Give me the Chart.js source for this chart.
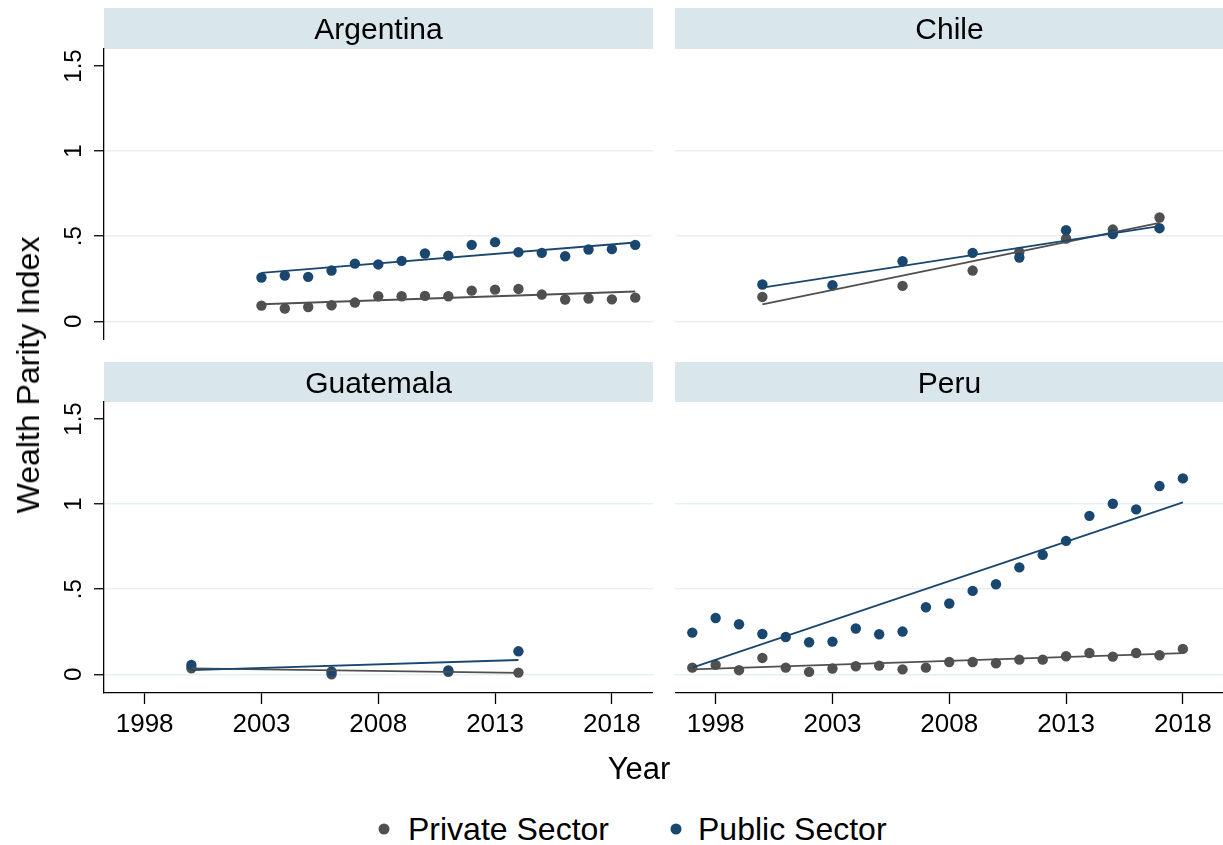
<!DOCTYPE html>
<html>
<head>
<meta charset="utf-8">
<title>Wealth Parity Index by sector</title>
<script src="https://cdn.jsdelivr.net/npm/chart.js@4.4.1/dist/chart.umd.min.js"></script>
<style>
  html, body { margin: 0; padding: 0; background: #fff; }
  body { position: relative; width: 1223px; height: 845px; overflow: hidden;
         font-family: "Liberation Sans", "Helvetica Neue", Helvetica, Arial, sans-serif; color: #000; }
  .panel { position: absolute; }
  .label { position: absolute; white-space: nowrap; line-height: 1; }
  .dot { position: absolute; width: 11px; height: 11px; border-radius: 50%; transform: translate(-50%, -50%); }
</style>
</head>
<body>

<div class="panel" style="left:0px;top:8px;"><canvas id="pArg" width="653" height="332"></canvas></div>
<div class="panel" style="left:675px;top:8px;"><canvas id="pChl" width="549" height="332"></canvas></div>
<div class="panel" style="left:0px;top:362px;"><canvas id="pGtm" width="653" height="391"></canvas></div>
<div class="panel" style="left:675px;top:362px;"><canvas id="pPer" width="549" height="391"></canvas></div>

<div class="label" style="left:28px;top:375px;font-size:32px;transform:translate(-50%,-50%) rotate(-90deg);">Wealth Parity Index</div>
<div class="label" style="left:639px;top:768px;font-size:31px;transform:translate(-50%,-50%);">Year</div>

<div class="dot" style="left:384px;top:829px;background:#505050;"></div>
<div class="label" style="left:408px;top:829px;font-size:32px;transform:translateY(-50%);">Private Sector</div>
<div class="dot" style="left:676px;top:829px;background:#1A476F;"></div>
<div class="label" style="left:698px;top:829px;font-size:32px;transform:translateY(-50%);">Public Sector</div>

<script>
// ---- Data ----------------------------------------------------------------
const argYears   = [2003, 2004, 2005, 2006, 2007, 2008, 2009, 2010, 2011, 2012, 2013, 2014, 2015, 2016, 2017, 2018, 2019];
const argPrivate = [0.092, 0.075, 0.084, 0.094, 0.110, 0.147, 0.147, 0.149, 0.147, 0.180, 0.186, 0.190, 0.157, 0.128, 0.134, 0.129, 0.139];
const argPublic  = [0.257, 0.269, 0.261, 0.298, 0.339, 0.334, 0.355, 0.398, 0.386, 0.449, 0.465, 0.406, 0.402, 0.382, 0.422, 0.424, 0.449];
const argPrivateFit = [0.100, 0.175];
const argPublicFit  = [0.284, 0.463];

const chlYears   = [2000, 2003, 2006, 2009, 2011, 2013, 2015, 2017];
const chlPrivate = [0.143, null, 0.208, 0.298, 0.408, 0.486, 0.539, 0.610];
const chlPublic  = [0.216, 0.212, 0.353, 0.402, 0.375, 0.535, 0.512, 0.547];
const chlPrivateFit = [0.100, 0.578];
const chlPublicFit  = [0.198, 0.559];

const gtmYears   = [2000, 2006, 2011, 2014];
const gtmPrivate = [0.035, 0.000, 0.015, 0.010];
const gtmPublic  = [0.055, 0.016, 0.022, 0.135];
const gtmPrivateFit = [0.035, 0.008];
const gtmPublicFit  = [0.025, 0.084];

const perYears   = [1997, 1998, 1999, 2000, 2001, 2002, 2003, 2004, 2005, 2006, 2007,
                    2008, 2009, 2010, 2011, 2012, 2013, 2014, 2015, 2016, 2017, 2018];
const perPrivate = [0.039, 0.055, 0.024, 0.096, 0.039, 0.014, 0.034, 0.047, 0.051, 0.029, 0.039,
                    0.072, 0.072, 0.065, 0.086, 0.086, 0.106, 0.125, 0.104, 0.125, 0.112, 0.149];
const perPublic  = [0.245, 0.331, 0.294, 0.237, 0.219, 0.188, 0.192, 0.269, 0.235, 0.251, 0.394,
                    0.416, 0.490, 0.529, 0.628, 0.702, 0.784, 0.931, 1.002, 0.969, 1.106, 1.151];
const perPrivateFit = [0.029, 0.124];
const perPublicFit  = [0.039, 1.010];

const xTicks  = [1998, 2003, 2008, 2013, 2018];
const yTicks  = [0, 0.5, 1, 1.5];
const yLabels = ['0', '.5', '1', '1.5'];
const yGrid   = [0, 0.5, 1];

// ---- Style ---------------------------------------------------------------
const FONT  = '"Liberation Sans", "Helvetica Neue", Helvetica, Arial, sans-serif';
const BLUE  = '#1A476F';
const GRAY  = '#505050';
const GRID  = '#E6EFF1';
const STRIP = '#D9E6EB';
const X_MIN = 1996.26, X_MAX = 2019.76;
const Y_MIN = -0.11,  Y_MAX = 1.60;

// Panel header strip plus rotated y tick labels
const panelDecor = {
  id: 'panelDecor',
  beforeDraw(chart, args, opts) {
    const { ctx, chartArea } = chart;
    ctx.save();
    ctx.fillStyle = STRIP;
    ctx.fillRect(chartArea.left, chartArea.top - opts.strip, chartArea.right - chartArea.left, opts.strip);
    ctx.fillStyle = '#000';
    ctx.font = '30px ' + FONT;
    ctx.textAlign = 'center';
    ctx.textBaseline = 'alphabetic';
    ctx.fillText(opts.title, (chartArea.left + chartArea.right) / 2, chartArea.top - opts.strip + 30.6);
    ctx.restore();
  },
  afterDraw(chart, args, opts) {
    if (!opts.yLabels) return;
    const { ctx } = chart;
    const ys = chart.scales.y;
    const fs = 24;
    ctx.save();
    ctx.fillStyle = '#000';
    ctx.font = fs + 'px ' + FONT;
    ctx.textAlign = 'center';
    ctx.textBaseline = 'alphabetic';
    yTicks.forEach((v, i) => {
      ctx.save();
      ctx.translate(72 + 0.358 * fs, ys.getPixelForValue(v));
      ctx.rotate(-Math.PI / 2);
      ctx.fillText(yLabels[i], 0, 0);
      ctx.restore();
    });
    ctx.restore();
  }
};

function points(years, values) {
  const out = [];
  years.forEach((yr, i) => { if (values[i] !== null) out.push({ x: yr, y: values[i] }); });
  return out;
}
function fitLine(years, fit) {
  return [{ x: years[0], y: fit[0] }, { x: years[years.length - 1], y: fit[1] }];
}

function drawPanel(id, title, strip, showY, showX, years, priv, pub, privFit, pubFit) {
  const yScale = {
    type: 'linear', min: Y_MIN, max: Y_MAX, position: 'left',
    afterBuildTicks: s => { s.ticks = yTicks.map(v => ({ value: v })); },
    afterFit: s => { s.width = showY ? 104 : 0; s.paddingTop = 0; s.paddingBottom = 0; },
    ticks: { display: false },
    border: { display: showY, color: '#000', width: 1.3 },
    grid: {
      color: c => (c.tick && yGrid.includes(c.tick.value)) ? GRID : 'rgba(0,0,0,0)',
      lineWidth: 1.5,
      drawTicks: showY, tickLength: 10, tickColor: '#000', tickWidth: 1.3
    }
  };
  const xScale = {
    type: 'linear', min: X_MIN, max: X_MAX, position: 'bottom', display: showX,
    afterBuildTicks: s => { s.ticks = xTicks.map(v => ({ value: v })); },
    afterFit: s => { s.height = showX ? 60 : 0; s.paddingLeft = 0; s.paddingRight = 0; },
    ticks: {
      color: '#000', font: { family: FONT, size: 26 }, padding: 5,
      maxRotation: 0, minRotation: 0, autoSkip: false,
      callback: v => String(v)
    },
    border: { display: true, color: '#000', width: 1.3 },
    grid: { drawOnChartArea: false, drawTicks: true, tickLength: 11, tickColor: '#000', tickWidth: 1.3 }
  };

  new Chart(document.getElementById(id), {
    type: 'scatter',
    data: {
      datasets: [
        { type: 'line', label: 'Public fit', data: fitLine(years, pubFit),
          borderColor: BLUE, borderWidth: 1.8, pointRadius: 0, fill: false },
        { type: 'line', label: 'Private fit', data: fitLine(years, privFit),
          borderColor: GRAY, borderWidth: 1.8, pointRadius: 0, fill: false },
        { label: 'Public Sector', data: points(years, pub),
          pointBackgroundColor: BLUE, pointBorderColor: BLUE, pointBorderWidth: 0, pointRadius: 5.2 },
        { label: 'Private Sector', data: points(years, priv),
          pointBackgroundColor: GRAY, pointBorderColor: GRAY, pointBorderWidth: 0, pointRadius: 5.2 }
      ]
    },
    options: {
      responsive: false,
      animation: false,
      events: [],
      layout: { autoPadding: false, padding: { top: strip, left: 0, right: 0, bottom: 0 } },
      plugins: {
        legend: { display: false },
        tooltip: { enabled: false },
        panelDecor: { title: title, strip: strip, yLabels: showY }
      },
      scales: { x: xScale, y: yScale }
    },
    plugins: [panelDecor]
  });
}

drawPanel('pArg', 'Argentina', 41, true,  false, argYears, argPrivate, argPublic, argPrivateFit, argPublicFit);
drawPanel('pChl', 'Chile',     41, false, false, chlYears, chlPrivate, chlPublic, chlPrivateFit, chlPublicFit);
drawPanel('pGtm', 'Guatemala', 40, true,  true,  gtmYears, gtmPrivate, gtmPublic, gtmPrivateFit, gtmPublicFit);
drawPanel('pPer', 'Peru',      40, false, true,  perYears, perPrivate, perPublic, perPrivateFit, perPublicFit);
</script>
</body>
</html>
